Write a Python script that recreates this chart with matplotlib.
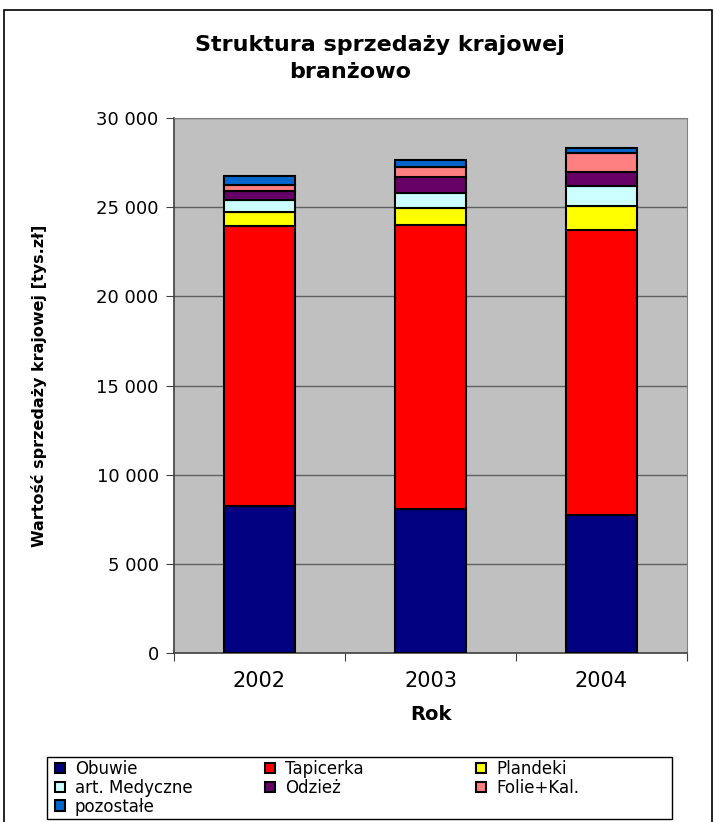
import numpy as np
import matplotlib.pyplot as plt
from matplotlib.patches import Rectangle
from matplotlib.ticker import FuncFormatter

plt.rcParams['font.family'] = ['DejaVu Sans']

# Data (tys. zł)
years = ['2002', '2003', '2004']
obuwie = [8240, 8070, 7740]
tapicerka = [15690, 15930, 15970]
plandeki = [820, 970, 1340]
medyczne = [670, 830, 1160]
odziez = [470, 910, 750]
folie = [370, 530, 1060]
pozostale = [470, 390, 300]

series = [obuwie, tapicerka, plandeki, medyczne, odziez, folie, pozostale]
labels = ['Obuwie', 'Tapicerka', 'Plandeki', 'art. Medyczne', 'Odzież',
          'Folie+Kal.', 'pozostałe']
colors = ['#000080', '#FF0000', '#FFFF00', '#CCFFFF', '#660066',
          '#FF8080', '#0066CC']

W, H = 715, 822
fig = plt.figure(figsize=(W / 100, H / 100), dpi=100)
ax = fig.add_axes([174 / W, 1 - 653 / H, 513 / W, 535 / H])
ax.set_facecolor('#C0C0C0')

x = np.arange(len(years))
bottom = np.zeros(len(years))
handles = []
for vals, lab, col in zip(series, labels, colors):
    b = ax.bar(x, vals, 0.41, bottom=bottom, color=col, edgecolor='black',
               linewidth=1.5, label=lab, zorder=3)
    handles.append(b)
    bottom += np.array(vals)

ax.set_xlim(-0.5, 2.5)
ax.set_ylim(0, 30000)
ax.set_yticks(np.arange(0, 30001, 5000))
ax.yaxis.set_major_formatter(FuncFormatter(lambda v, p: f'{int(v):,}'.replace(',', ' ')))
ax.grid(axis='y', color='#606060', linewidth=1, zorder=1)

ax.set_xticks([-0.5, 0.5, 1.5, 2.5])
ax.set_xticklabels([])
ax.set_xticks(x, minor=True)
ax.set_xticklabels(years, minor=True, fontsize=15)
ax.tick_params(axis='x', which='minor', length=0, pad=13)
ax.tick_params(axis='x', which='major', length=6, direction='out', color='#404040')
ax.tick_params(axis='y', length=6, direction='out', labelsize=13, pad=5, color='#404040')

for s in ['top', 'right']:
    ax.spines[s].set_color('#808080')
for s in ['left', 'bottom']:
    ax.spines[s].set_color('#404040')
    ax.spines[s].set_linewidth(1.2)

ax.set_xlabel('Rok', fontsize=14, fontweight='bold', labelpad=10)
ax.set_ylabel('Wartość sprzedaży krajowej [tys.zł]', fontsize=11.5,
              fontweight='bold')
ax.yaxis.set_label_coords(-0.248, 0.5)

fig.text(380 / W, 1 - 45 / H, 'Struktura sprzedaży krajowej', ha='center',
         va='center', fontsize=16, fontweight='bold')
fig.text(350 / W, 1 - 72 / H, 'branżowo', ha='center', va='center',
         fontsize=16, fontweight='bold')

# legend: three columns filled row by row, one frameless legend per column
columns = [[0, 3, 6], [1, 4], [2, 5]]
col_x = [55, 265, 476]
for idx, cx in zip(columns, col_x):
    fig.legend([handles[i] for i in idx], [labels[i] for i in idx],
               loc='upper left', bbox_to_anchor=(cx / W, 1 - 760 / H),
               fontsize=12, frameon=False, handlelength=0.6,
               handleheight=0.6, handletextpad=0.6, labelspacing=0.05,
               borderpad=0, borderaxespad=0)

fig.patches.append(Rectangle((47 / W, 1 - 819 / H), 625 / W, 62 / H,
                             transform=fig.transFigure, fill=False,
                             edgecolor='black', linewidth=1))

# outer chart border
fig.patches.append(Rectangle((4 / W, -0.01), 708 / W, 1 - 10 / H + 0.01,
                             transform=fig.transFigure, fill=False,
                             edgecolor='black', linewidth=1.2))

fig.savefig('out.png', dpi=100)
